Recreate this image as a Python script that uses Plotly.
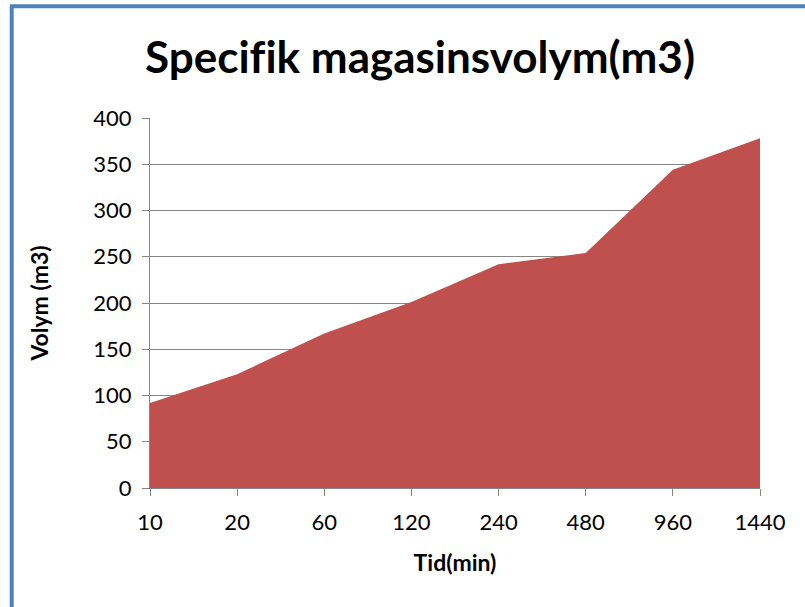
import plotly.graph_objects as go

categories = ["10", "20", "60", "120", "240", "480", "960", "1440"]
volym = [92, 123, 167, 201, 242, 254, 344, 378]
y_ticks = [0, 50, 100, 150, 200, 250, 300, 350, 400]

L, R, T, B = 150, 760, 118, 488
W, H = 805, 607
pw, ph = R - L, B - T

def px_x(x):
    return (x - L) / pw

def px_y(y):
    return (B - y) / ph

fig = go.Figure()
fig.add_trace(go.Scatter(
    x=categories, y=volym, mode="lines", fill="tozeroy",
    line=dict(width=0, color="#C0504D"), fillcolor="#C0504D",
    hoverinfo="x+y", showlegend=False,
))

fig.update_layout(
    width=W, height=H,
    margin=dict(l=L, r=W - R, t=T, b=H - B, pad=0),
    paper_bgcolor="white", plot_bgcolor="white",
    font=dict(family="Lato, Carlito, sans-serif", color="black"),
    title=dict(text="<b>Specif\u200cik magasinsvolym(m3)</b>",
               font=dict(size=44, family="Lato, sans-serif", color="black"),
               x=420 / W, xanchor="center", y=1 - 58 / H, yanchor="middle"),
    xaxis=dict(type="category", range=[0, len(categories) - 1],
               showgrid=False, showline=True, linecolor="#868686", linewidth=1,
               ticks="outside", ticklen=7, tickcolor="#868686",
               tickfont=dict(size=22), ticklabelstandoff=8,
               title=dict(text="<b>Tid(min)</b>", font=dict(size=23), standoff=20),
               zeroline=False),
    yaxis=dict(range=[0, 400], tickvals=y_ticks,
               showgrid=True, gridcolor="#868686", gridwidth=1,
               showline=True, linecolor="#868686", linewidth=1,
               ticks="outside", ticklen=7, tickcolor="#868686",
               tickfont=dict(size=22), ticklabelstandoff=6,
               title=dict(text="<b>Volym (m3)</b>", font=dict(size=23), standoff=38),
               zeroline=False),
    shapes=[
        dict(type="line", xref="paper", yref="paper",
             x0=px_x(11.7), x1=px_x(11.7), y0=px_y(6), y1=px_y(620),
             line=dict(color="#4F81BD", width=4)),
        dict(type="line", xref="paper", yref="paper",
             x0=px_x(10), x1=px_x(820), y0=px_y(6.2), y1=px_y(6.2),
             line=dict(color="#4F81BD", width=4)),
    ],
)

fig.write_html("out.html", config={"displayModeBar": False},
               post_script="document.body.style.margin='0';")
